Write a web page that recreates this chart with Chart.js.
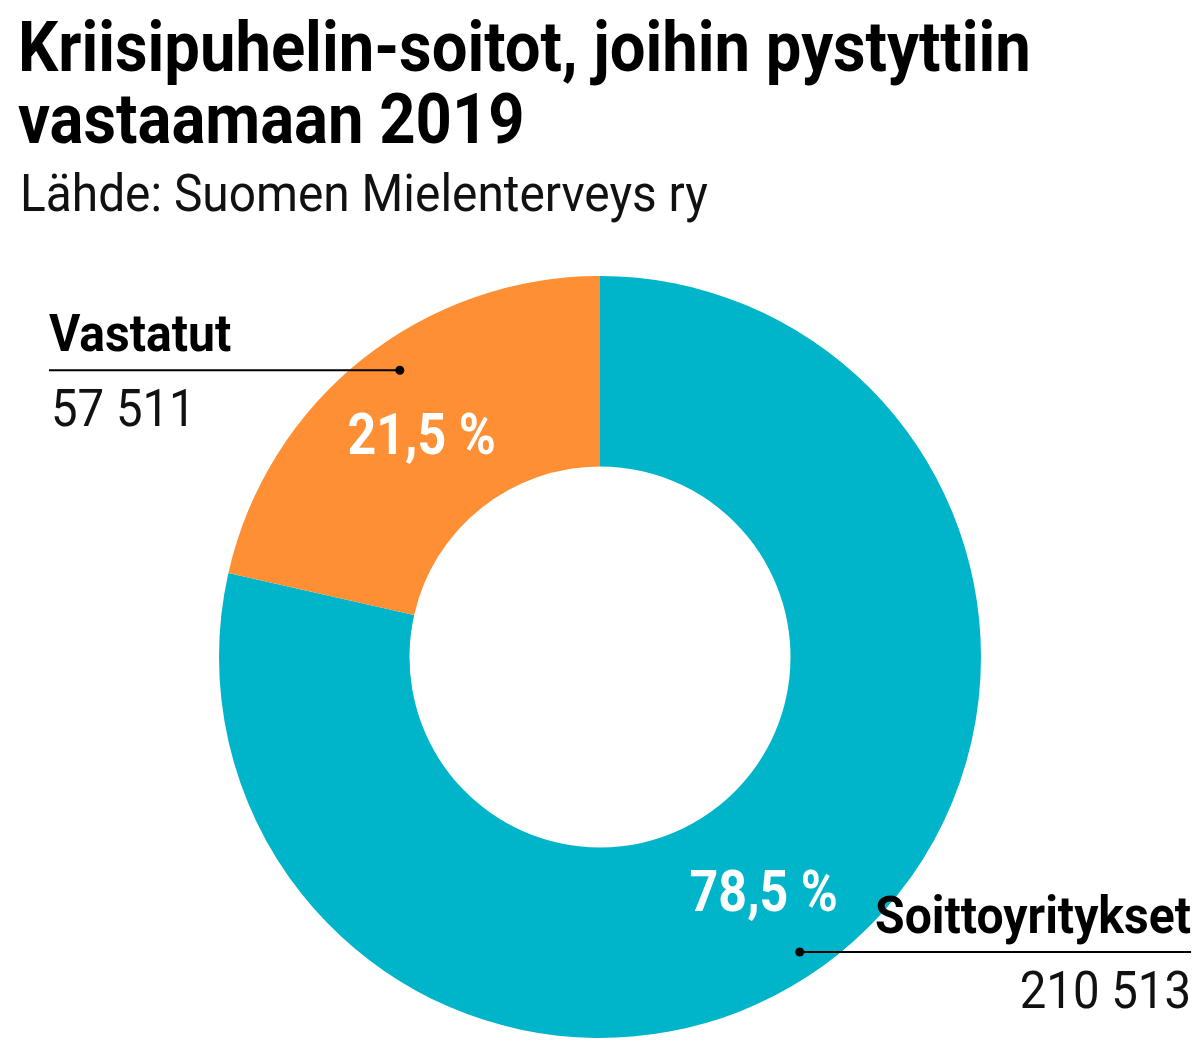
<!DOCTYPE html>
<html>
<head>
<meta charset="utf-8">
<script src="https://cdn.jsdelivr.net/npm/chart.js@4"></script>
<style>
html,body{margin:0;padding:0;background:#fff}
#c{display:block}
</style>
</head>
<body>
<canvas id="c" width="1199" height="1053"></canvas>
<script>
'use strict';
// data
const labels=['Soittoyritykset','Vastatut'];
const values=[210513,57511];
const colors=['#00b5c9','#ff8f35'];
const titleLines=['Kriisipuhelin-soitot, joihin pystyttiin','vastaamaan 2019'];
const source='Lähde: Suomen Mielenterveys ry';

const total=values.reduce((s,v)=>s+v,0);
const pct=v=>(v/total*100).toFixed(1).replace('.',',')+' %';
const thou=v=>String(v).replace(/\B(?=(\d{3})+(?!\d))/g,' ');

// fake a condensed face by squeezing Roboto horizontally
function txt(ctx,s,x,y,font,color,align,sx){
  sx=sx||0.915;
  ctx.save();ctx.font=font;ctx.fillStyle=color;ctx.textBaseline='alphabetic';
  const w=ctx.measureText(s).width*sx;
  let x0=x;if(align==='right')x0=x-w;else if(align==='center')x0=x-w/2;
  ctx.translate(x0,y);ctx.scale(sx,1);ctx.fillText(s,0,0);ctx.restore();
}
const F='Roboto, "Liberation Sans", sans-serif';

// where the leader dot and % label sit inside each slice (fraction along arc, fraction of outer radius)
const callouts=[
  {dotAt:0.516,dotR:0.935,pctAt:0.513,side:'right'},
  {dotAt:0.548,dotR:0.918,pctAt:0.5,side:'left'}
];

const labelsPlugin={
  id:'labels',
  afterDraw(chart){
    const ctx=chart.ctx;
    txt(ctx,titleLines[0],18,71,'bold 70px '+F,'#000','left',0.905);
    txt(ctx,titleLines[1],18,143,'bold 70px '+F,'#000','left',0.905);
    txt(ctx,source,20,211,'52px '+F,'#111','left',0.92);
    const meta=chart.getDatasetMeta(0);
    meta.data.forEach((arc,i)=>{
      const p=arc.getProps(['x','y','startAngle','endAngle','innerRadius','outerRadius'],true);
      const c=callouts[i];
      const span=p.endAngle-p.startAngle;
      // percent label
      const pa=p.startAngle+span*c.pctAt,pr=(p.innerRadius+p.outerRadius)/2;
      const px=p.x+Math.cos(pa)*pr,py=p.y+Math.sin(pa)*pr;
      txt(ctx,pct(values[i]),px,py+20,'bold 57px '+F,'#fff','center',0.88);
      // leader
      const da=p.startAngle+span*c.dotAt,dr=p.outerRadius*c.dotR;
      const dx=p.x+Math.cos(da)*dr,dy=p.y+Math.sin(da)*dr;
      const lx=c.side==='left'?49:1191;
      ctx.save();ctx.strokeStyle='#000';ctx.lineWidth=2;
      ctx.beginPath();ctx.moveTo(lx,dy);ctx.lineTo(dx,dy);ctx.stroke();
      ctx.fillStyle='#000';ctx.beginPath();ctx.arc(dx,dy,4.5,0,Math.PI*2);ctx.fill();ctx.restore();
      const al=c.side==='left'?'left':'right';
      txt(ctx,labels[i],lx,dy-19,'bold 52px '+F,'#000',al,0.925);
      txt(ctx,thou(values[i]),lx+(c.side==='left'?2:0),dy+56,'52px '+F,'#111',al,0.91);
    });
  }
};

new Chart(document.getElementById('c'),{
  type:'doughnut',
  data:{labels,datasets:[{data:values,backgroundColor:colors,borderWidth:0,hoverOffset:0}]},
  options:{
    responsive:false,animation:false,cutout:'50%',
    layout:{padding:{left:219,right:218,top:276,bottom:15}},
    plugins:{legend:{display:false},tooltip:{enabled:false},title:{display:false}}
  },
  plugins:[labelsPlugin]
});
</script>
</body>
</html>
